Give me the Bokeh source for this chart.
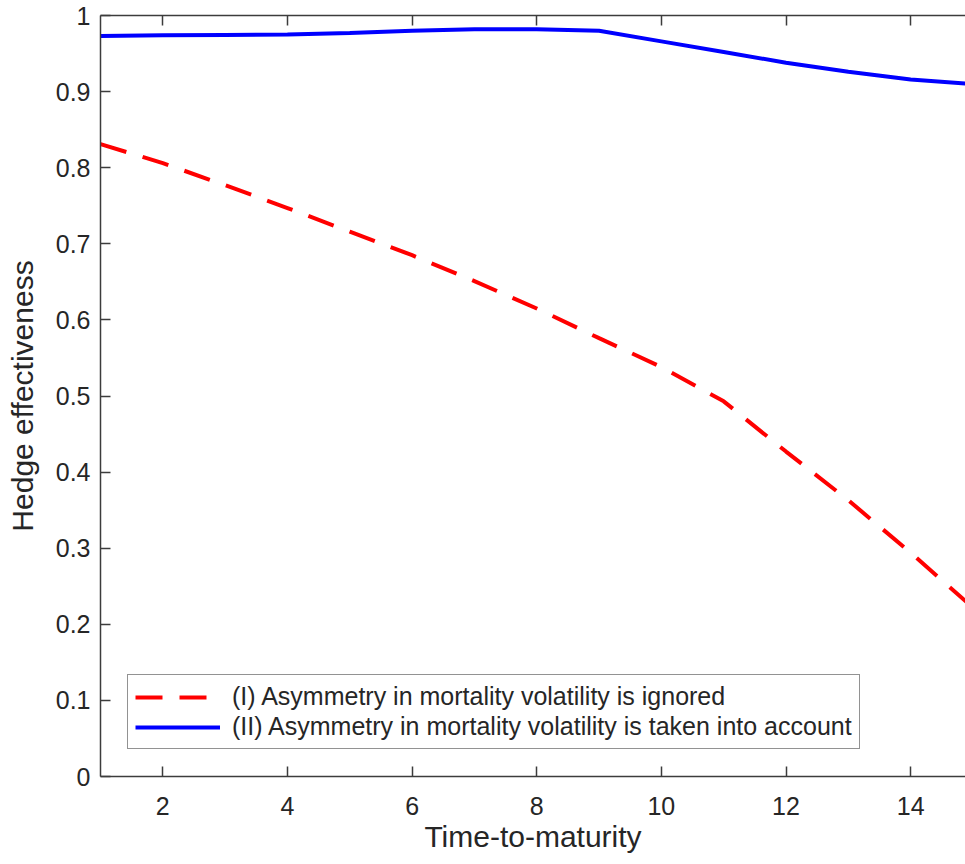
from bokeh.plotting import figure
from bokeh.models import Range1d, LinearAxis, FixedTicker, Legend, LegendItem
from bokeh.embed import file_html
from bokeh.resources import INLINE

# Time-to-maturity (years)
maturity = [1, 2, 3, 4, 5, 6, 7, 8, 9, 10, 11, 12, 13, 14, 15]

# Hedge effectiveness, strategy (I): volatility asymmetry ignored
he_ignored = [0.831, 0.806, 0.777, 0.747, 0.716, 0.685, 0.651, 0.615,
              0.576, 0.538, 0.493, 0.427, 0.363, 0.294, 0.222]

# Hedge effectiveness, strategy (II): volatility asymmetry taken into account
he_asym = [0.973, 0.974, 0.9745, 0.975, 0.977, 0.980, 0.982, 0.982,
           0.980, 0.966, 0.952, 0.938, 0.926, 0.916, 0.910]

x_ticks = [2, 4, 6, 8, 10, 12, 14]
y_ticks = [0, 0.1, 0.2, 0.3, 0.4, 0.5, 0.6, 0.7, 0.8, 0.9, 1]
y_tick_labels = ["0", "0.1", "0.2", "0.3", "0.4", "0.5", "0.6", "0.7", "0.8", "0.9", "1"]

label_ignored = "(I) Asymmetry in mortality volatility is ignored"
label_asym = "(II) Asymmetry in mortality volatility is taken into account"

FONT = "Liberation Sans"
INK = "#262626"
AXIS = "#3c3c3c"

p = figure(width=965, height=864, output_backend="svg", toolbar_location=None,
           x_range=Range1d(1, 14.88), y_range=Range1d(0, 1),
           min_border_left=100, min_border_right=0, min_border_top=15,
           min_border_bottom=88)
p.outline_line_color = None
p.grid.visible = False
p.background_fill_color = "white"
p.border_fill_color = "white"

r_ign = p.line(maturity, he_ignored, line_color="#ff0000", line_width=4,
               line_dash="27 17")
r_asym = p.line(maturity, he_asym, line_color="#0000ff", line_width=4)


def style_axis(ax):
    ax.axis_line_color = AXIS
    ax.axis_line_width = 1.5
    ax.major_tick_line_color = AXIS
    ax.major_tick_line_width = 1.5
    ax.major_tick_in = 10
    ax.major_tick_out = 0
    ax.minor_tick_line_color = None
    ax.major_label_text_font = FONT
    ax.major_label_text_font_size = "25px"
    ax.major_label_text_color = INK
    ax.axis_label_text_font = FONT
    ax.axis_label_text_font_size = "30px"
    ax.axis_label_text_font_style = "normal"
    ax.axis_label_text_color = INK


xa = p.xaxis[0]
style_axis(xa)
xa.ticker = FixedTicker(ticks=x_ticks)
xa.axis_label = "Time-to-maturity"
xa.major_label_standoff = 20
xa.axis_label_standoff = 2

ya = p.yaxis[0]
style_axis(ya)
ya.ticker = FixedTicker(ticks=y_ticks)
ya.major_label_overrides = {t: s for t, s in zip(y_ticks, y_tick_labels)}
ya.axis_label = "Hedge effectiveness"
ya.major_label_standoff = 10
ya.axis_label_standoff = 14

# top border with inward ticks, no labels
top = LinearAxis(ticker=FixedTicker(ticks=x_ticks))
style_axis(top)
top.major_label_text_font_size = "0px"
top.major_label_standoff = 0
top.major_label_overrides = {t: "" for t in x_ticks}
p.add_layout(top, "above")

legend = Legend(items=[LegendItem(label=label_ignored, renderers=[r_ign]),
                       LegendItem(label=label_asym, renderers=[r_asym])],
                location=(27, 27))
legend.label_text_font = FONT
legend.label_text_font_size = "25px"
legend.label_text_color = INK
legend.glyph_width = 85
legend.glyph_height = 20
legend.label_height = 20
legend.label_standoff = 12
legend.spacing = 1
legend.padding = 7
legend.margin = 0
legend.border_line_color = INK
legend.border_line_width = 1.2
legend.background_fill_color = "white"
legend.background_fill_alpha = 1
p.add_layout(legend, "center")

open("out.html", "w").write(file_html(p, INLINE))
